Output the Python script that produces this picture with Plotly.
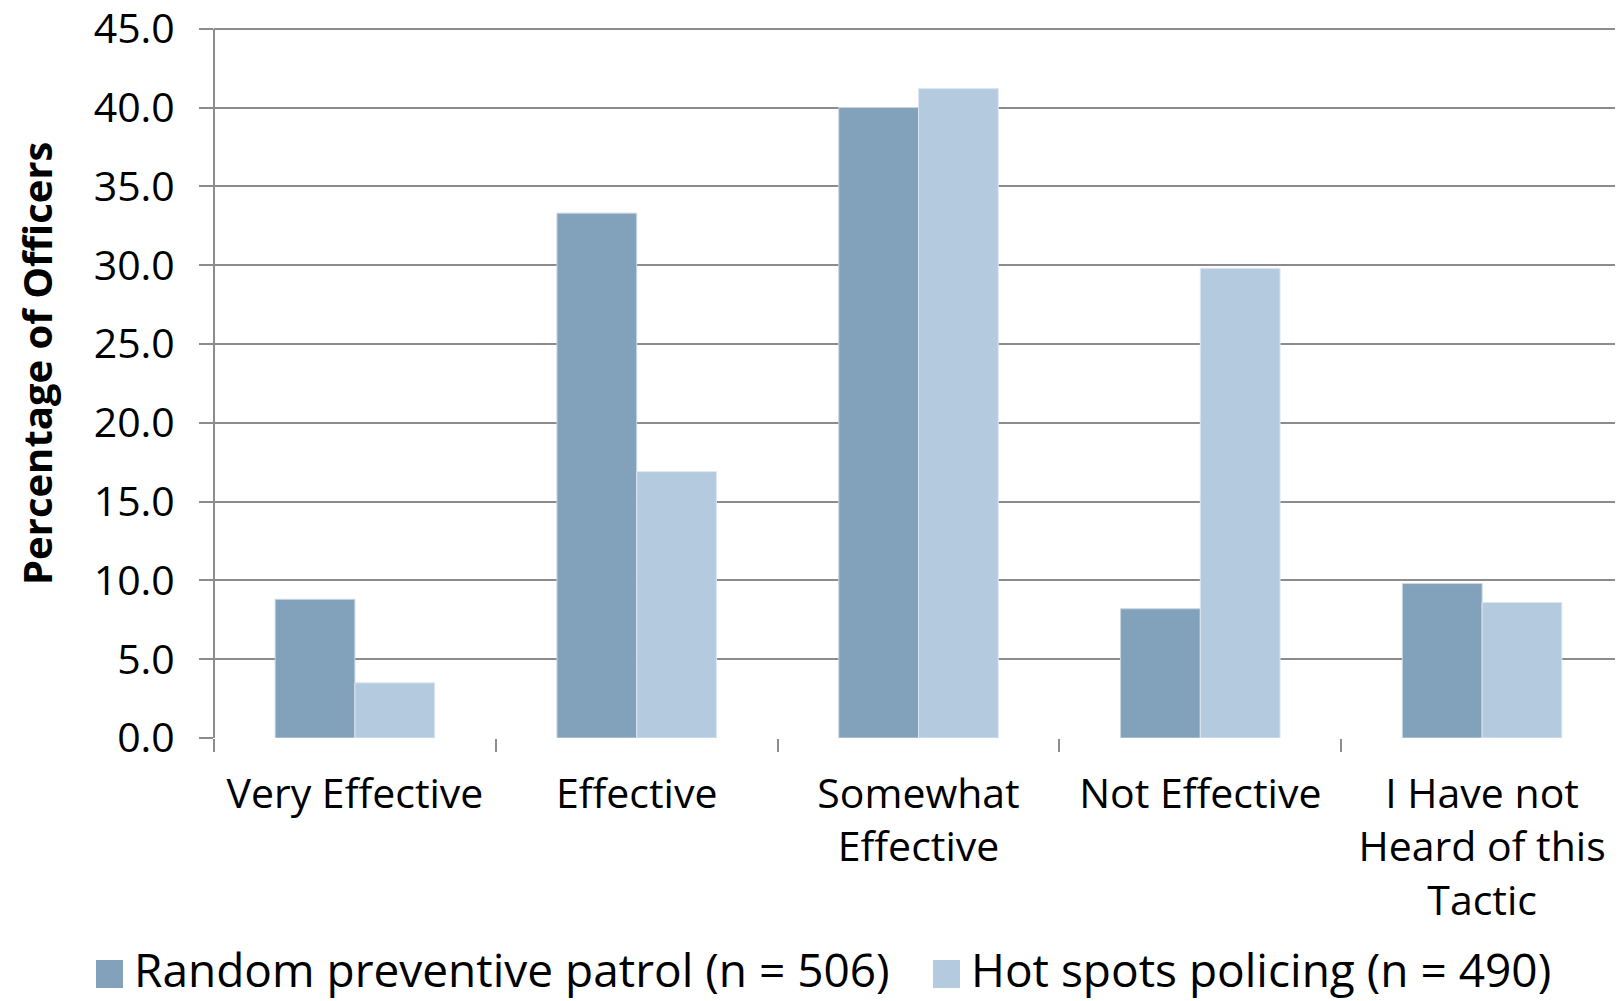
import plotly.graph_objects as go

categories = ["Very Effective", "Effective", "Somewhat<br>Effective", "Not Effective",
              "I Have not<br>Heard of this<br>Tactic"]
random_patrol = [8.8, 33.3, 40.0, 8.2, 9.8]
hot_spots = [3.5, 16.9, 41.2, 29.8, 8.6]
series_names = ["Random preventive patrol (n = 506)", "Hot spots policing (n = 490)"]
series_colors = ["#82A2BB", "#B4CADE"]
y_title = "Percentage of Officers"
y_ticks = [0, 5, 10, 15, 20, 25, 30, 35, 40, 45]
y_tick_labels = [f"{v:.1f}" for v in y_ticks]
y_range = [0, 45.3]

FONT = "Open Sans"
OFF = 8  # default body margin of the html page
PX_PER_UNIT = (738 - 29) / 45.0
W, H = 1623 - OFF, 1001 - OFF
L = 214 - OFF
T = round(29 - (y_range[1] - 45) * PX_PER_UNIT) - OFF
B = H - (738 - OFF)
R = 0
PW = W - L - R
PH = H - T - B

fig = go.Figure()
fig.add_trace(go.Bar(x=categories, y=random_patrol, name=series_names[0], showlegend=False,
                     marker=dict(color=series_colors[0], line=dict(color="#C9D6E2", width=1))))
fig.add_trace(go.Bar(x=categories, y=hot_spots, name=series_names[1], showlegend=False,
                     marker=dict(color=series_colors[1], line=dict(color="#DCE6F0", width=1))))

# helpers: page pixel -> paper coords
def px_x(px):
    return (px - OFF - L) / PW

def px_y(py):
    return (H - B - (py - OFF)) / PH

# manual legend (large square swatches like the original)
legend_items = [(series_names[0], series_colors[0], 96), (series_names[1], series_colors[1], 933)]
for name, col, x0 in legend_items:
    fig.add_shape(type="rect", xref="paper", yref="paper",
                  x0=px_x(x0), x1=px_x(x0 + 27), y0=px_y(988), y1=px_y(960),
                  fillcolor=col, line=dict(width=0))
    fig.add_annotation(text=name, xref="paper", yref="paper",
                       x=px_x(x0 + 36), y=px_y(969), xanchor="left", yanchor="middle",
                       showarrow=False, font=dict(family=FONT, size=46, color="black"))

# y-axis title
fig.add_annotation(text=f"<b>{y_title}</b>", xref="paper", yref="paper",
                   x=px_x(36), y=px_y(364), xanchor="center", yanchor="middle",
                   textangle=-90, showarrow=False,
                   font=dict(family=FONT, size=40, color="black"))

fig.update_layout(
    width=W, height=H,
    margin=dict(l=L, r=R, t=T, b=B, autoexpand=False),
    plot_bgcolor="white", paper_bgcolor="white",
    barmode="group", bargap=0.434, bargroupgap=0,
    font=dict(family=FONT, size=40, color="black"),
    showlegend=False,
    xaxis=dict(showline=False, ticks="outside", tickson="boundaries", ticklen=13,
               tickcolor="#8C8C8C", tickwidth=2, showgrid=False, automargin=False,
               ticklabelstandoff=28, tickfont=dict(size=41)),
    yaxis=dict(range=y_range, tickvals=y_ticks, ticktext=y_tick_labels,
               showgrid=True, gridcolor="#8C8C8C", gridwidth=2,
               showline=False, zeroline=False, automargin=False,
               ticks="outside", ticklen=14, tickcolor="#8C8C8C", tickwidth=2,
               ticklabelstandoff=16, ticklabeloverflow="allow",
               tickfont=dict(size=41)),
)
# vertical axis line from 0 to 45 (as in the original, not to the padded top)
fig.add_shape(type="line", xref="paper", yref="y", x0=0, x1=0, y0=0, y1=45,
              line=dict(color="#8C8C8C", width=2))
fig.write_html("out.html")
